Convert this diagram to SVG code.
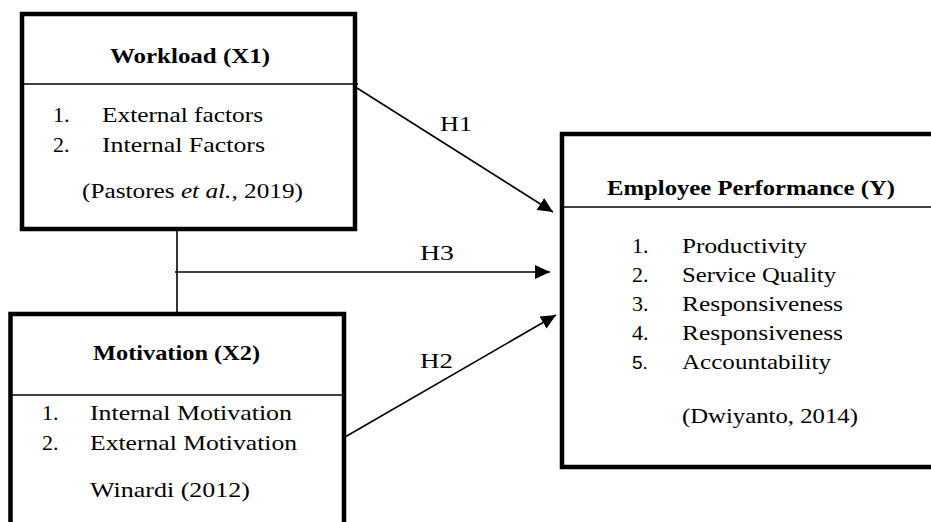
<svg xmlns="http://www.w3.org/2000/svg" width="931" height="522" viewBox="0 0 931 522">
<style>
.box{fill:#fff;stroke:#000;stroke-width:4.5;stroke-linejoin:miter}
.div{stroke:#000;stroke-width:1.5}
.con{stroke:#000;stroke-width:1.6;fill:none}
text{font-family:"Liberation Serif","Times New Roman",serif;font-size:22px;fill:#000}
.t{font-weight:bold}
.sans{font-family:"Liberation Sans",Arial,sans-serif;font-size:19px}
</style>
<defs>
<marker id="ah" markerUnits="userSpaceOnUse" markerWidth="16" markerHeight="14" refX="15" refY="7" orient="auto">
<path d="M0,0 L15,7 L0,14 Z" fill="#000"/>
</marker>
</defs>
<g id="connectors">
<line class="con" x1="177" y1="229" x2="177" y2="314"/>
<line class="con" x1="175" y1="272" x2="550" y2="272" marker-end="url(#ah)"/>
<line class="con" x1="357" y1="88" x2="553" y2="212" marker-end="url(#ah)"/>
<line class="con" x1="345" y1="437" x2="556" y2="315" marker-end="url(#ah)"/>
<text x="440" y="131" textLength="32" lengthAdjust="spacingAndGlyphs">H1</text>
<text x="420" y="260" textLength="34" lengthAdjust="spacingAndGlyphs">H3</text>
<text x="420" y="368" textLength="33" lengthAdjust="spacingAndGlyphs">H2</text>
</g>
<g id="workload">
<rect class="box" x="22" y="14" width="333" height="215"/>
<line class="div" x1="22" y1="84" x2="358" y2="84"/>
<text class="t" x="110" y="63" textLength="160" lengthAdjust="spacingAndGlyphs">Workload (X1)</text>
<text x="53" y="122">1.</text>
<text x="102" y="122" textLength="161" lengthAdjust="spacingAndGlyphs">External factors</text>
<text x="53" y="152">2.</text>
<text x="102" y="152" textLength="163" lengthAdjust="spacingAndGlyphs">Internal Factors</text>
<text x="82" y="198" textLength="221" lengthAdjust="spacingAndGlyphs">(Pastores <tspan font-style="italic">et al.</tspan>, 2019)</text>
</g>
<g id="motivation">
<rect class="box" x="10.5" y="314" width="333.5" height="260"/>
<line class="div" x1="10.5" y1="395" x2="344" y2="395"/>
<text class="t" x="93" y="360" textLength="167" lengthAdjust="spacingAndGlyphs">Motivation (X2)</text>
<text x="42" y="420">1.</text>
<text x="90" y="420" textLength="202" lengthAdjust="spacingAndGlyphs">Internal Motivation</text>
<text x="42" y="450">2.</text>
<text x="90" y="450" textLength="207" lengthAdjust="spacingAndGlyphs">External Motivation</text>
<text x="90" y="497" textLength="160" lengthAdjust="spacingAndGlyphs">Winardi (2012)</text>
</g>
<g id="performance">
<rect class="box" x="562" y="134" width="400" height="333"/>
<line class="div" x1="562" y1="207" x2="931" y2="207"/>
<text class="t" x="607" y="195" textLength="288" lengthAdjust="spacingAndGlyphs">Employee Performance (Y)</text>
<text x="632" y="253">1.</text>
<text x="682" y="253" textLength="125" lengthAdjust="spacingAndGlyphs">Productivity</text>
<text x="632" y="282">2.</text>
<text x="682" y="282" textLength="154" lengthAdjust="spacingAndGlyphs">Service Quality</text>
<text x="632" y="311">3.</text>
<text x="682" y="311" textLength="161" lengthAdjust="spacingAndGlyphs">Responsiveness</text>
<text x="632" y="340">4.</text>
<text x="682" y="340" textLength="161" lengthAdjust="spacingAndGlyphs">Responsiveness</text>
<text class="sans" x="632" y="369">5.</text>
<text x="682" y="369" textLength="149" lengthAdjust="spacingAndGlyphs">Accountability</text>
<text x="682" y="423" textLength="176" lengthAdjust="spacingAndGlyphs">(Dwiyanto, 2014)</text>
</g>
</svg>
